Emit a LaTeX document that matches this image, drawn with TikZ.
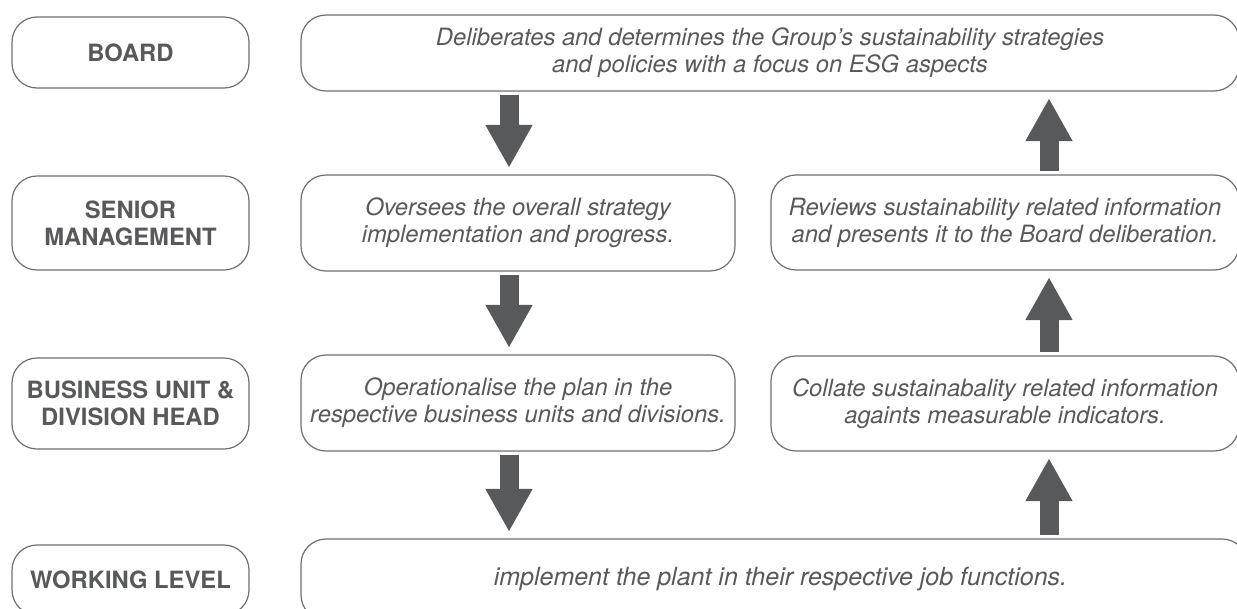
\documentclass[tikz,border=0pt]{standalone}
\usepackage{fontspec}
\setmainfont{TeX Gyre Heros}
\usetikzlibrary{arrows.meta}
\definecolor{txtgray}{RGB}{88,89,91}
\definecolor{boxgray}{RGB}{110,111,114}
\definecolor{arrowgray}{RGB}{88,89,91}

\tikzset{
    tasktext/.style={align=center, text=txtgray,
        font=\fontsize{23.8}{27}\selectfont\itshape},
    levelbox/.style={draw=boxgray, line width=1.2pt, rounded corners=25pt,
        minimum width=237pt, align=center, text=txtgray,
        font=\fontsize{23.8}{27}\selectfont\bfseries},
    taskbox/.style={tasktext, draw=boxgray, line width=1.2pt,
        rounded corners=25pt},
    flowarrow/.style={draw=arrowgray, line width=19pt,
        -{Triangle[length=43pt, width=44pt]},
        shorten <=3pt, shorten >=6.5pt}
}

\begin{document}
\begin{tikzpicture}[x=1pt, y=-1pt]
    \useasboundingbox (0, 0) rectangle (1237, 608);
    % level names
    \node[levelbox, minimum height=71pt] (board) at (130.5, 52.5) {BOARD};
    \node[levelbox, minimum height=94pt] (senior) at (130.5, 223) {SENIOR\\MANAGEMENT};
    \node[levelbox, minimum height=91pt] (unit) at (130.5, 403.5) {BUSINESS UNIT \&\\DIVISION HEAD};
    \node[levelbox, minimum height=70pt] (working) at (130.5, 580) {WORKING LEVEL};

    % tasks
    \node[taskbox, minimum width=938pt, minimum height=76pt] (boardtask) at (770, 53)
        {Deliberates and determines the Group's sustainability strategies\\and policies with a focus on ESG aspects};
    \node[taskbox, minimum width=434pt, minimum height=96pt] (oversee) at (518, 223)
        {Oversees the overall strategy\\implementation and progress.};
    \node[taskbox, minimum width=468pt, minimum height=95pt] (review) at (1005, 222.5)
        {Reviews sustainability related information\\and presents it to the Board deliberation.};
    \node[taskbox, minimum width=434pt, minimum height=96pt] (operate) at (518, 403)
        {Operationalise the plan in the\\respective business units and divisions.};
    \node[taskbox, minimum width=468pt, minimum height=95pt] (collate) at (1005, 403.5)
        {Collate sustainabality related information\\againts measurable indicators.};
    \node[taskbox, minimum width=946pt, minimum height=81pt,
        label={[tasktext, font=\fontsize{25}{29}\selectfont\itshape, xshift=6.5pt]center:implement the plant in their respective job functions.}]
        (implement) at (774, 579.5) {};

    % arrows
    \coordinate (down) at (509, 0);
    \coordinate (up) at (1049, 0);
    \draw[flowarrow] (boardtask.south -| down) -- (oversee.north -| down);
    \draw[flowarrow] (oversee.south -| down) -- (operate.north -| down);
    \draw[flowarrow] (operate.south -| down) -- (implement.north -| down);
    \draw[flowarrow] (implement.north -| up) -- (collate.south -| up);
    \draw[flowarrow] (collate.north -| up) -- (review.south -| up);
    \draw[flowarrow] (review.north -| up) -- (boardtask.south -| up);
\end{tikzpicture}
\end{document}
